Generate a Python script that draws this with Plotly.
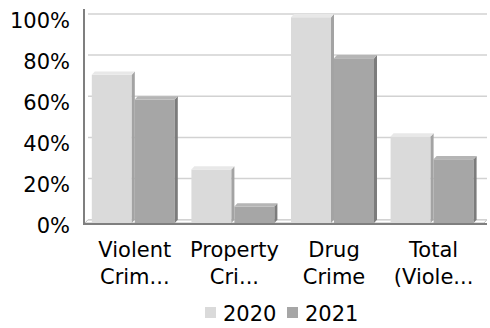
import plotly.graph_objects as go

# Share of cases by crime type, two years
categories = ["Violent<br>Crim...", "Property<br>Cri...", "Drug<br>Crime", "Total<br>(Viole..."]
years = ["2020", "2021"]
values_2020 = [72, 26, 100, 42]
values_2021 = [60, 8, 80, 31]
y_ticks = [0, 20, 40, 60, 80, 100]

# Canvas geometry (pixels)
W, H = 490, 328
M_L, M_R, M_T, M_B = 85, 3, 9, 105
plot_w = W - M_L - M_R
plot_h = H - M_T - M_B
X_MIN = -0.5
PX_PER_CAT = 99.6
X_MAX = X_MIN + plot_w / PX_PER_CAT
PX_PER_PCT = 2.058
Y_MAX = plot_h / PX_PER_PCT

# Oblique depth of the 3D extrusion, converted to data units
DEPTH_X = 3.0 / PX_PER_CAT
DEPTH_Y = 3.3 / PX_PER_PCT

SLOT = 43 / PX_PER_CAT
BAR_W = 40 / PX_PER_CAT

front = {"2020": "#dadada", "2021": "#a6a6a6"}
side = {"2020": "#a3a3a3", "2021": "#7c7c7c"}
top = {"2020": "#e8e8e8", "2021": "#b5b5b5"}
offsets = {"2020": -SLOT, "2021": 0.0}
series = {"2020": values_2020, "2021": values_2021}

FONT = "DejaVu Sans"
FS = 21

fig = go.Figure()
for yr in years:
    fig.add_trace(go.Bar(
        name=yr,
        x=list(range(len(categories))),
        y=series[yr],
        width=BAR_W,
        offset=offsets[yr],
        marker=dict(color=front[yr], line=dict(width=0)),
        hoverinfo="skip",
        showlegend=False,
    ))

shapes = []
annotations = []

# Floor slab under the bars
shapes.append(dict(
    type="path", xref="x", yref="y", layer="below",
    path=f"M{X_MIN},0 L{X_MAX - DEPTH_X},0 L{X_MAX},{DEPTH_Y} L{X_MIN + DEPTH_X},{DEPTH_Y} Z",
    fillcolor="#ffffff", line=dict(color="#bdbdbd", width=1),
))

# Gridlines on the back wall
for v in y_ticks:
    shapes.append(dict(
        type="line", xref="x", yref="y", layer="below",
        x0=X_MIN + DEPTH_X, x1=X_MAX, y0=v + DEPTH_Y, y1=v + DEPTH_Y,
        line=dict(color="#d2d2d2", width=1.5),
    ))

# Side and top faces of each bar
for yr in years:
    for i, v in enumerate(series[yr]):
        x0 = i + offsets[yr]
        x1 = x0 + BAR_W
        shapes.append(dict(
            type="path", xref="x", yref="y", layer="above",
            path=f"M{x1},0 L{x1 + DEPTH_X},{DEPTH_Y} L{x1 + DEPTH_X},{v + DEPTH_Y} L{x1},{v} Z",
            fillcolor=side[yr], line=dict(width=0),
        ))
        shapes.append(dict(
            type="path", xref="x", yref="y", layer="above",
            path=f"M{x0},{v} L{x0 + DEPTH_X},{v + DEPTH_Y} L{x1 + DEPTH_X},{v + DEPTH_Y} L{x1},{v} Z",
            fillcolor=top[yr], line=dict(width=0),
        ))

# Compact legend below the axis: swatch + label per year
def px_x(px):
    return (px - M_L) / plot_w

def px_y(py):
    return (H - M_B - py) / plot_h

legend_left = {"2020": 205, "2021": 287}
LEG_CY = 314
for yr in years:
    lx = legend_left[yr]
    shapes.append(dict(
        type="rect", xref="paper", yref="paper",
        x0=px_x(lx), x1=px_x(lx + 11), y0=px_y(LEG_CY + 4), y1=px_y(LEG_CY - 7),
        fillcolor=front[yr], line=dict(width=0),
    ))
    annotations.append(dict(
        xref="paper", yref="paper", x=px_x(lx + 16), y=px_y(LEG_CY),
        xanchor="left", yanchor="middle", showarrow=False,
        text=yr, font=dict(family=FONT, size=FS, color="#000000"),
    ))

fig.update_layout(
    width=W, height=H,
    margin=dict(l=M_L, r=M_R, t=M_T, b=M_B, pad=0),
    paper_bgcolor="#ffffff", plot_bgcolor="#ffffff",
    font=dict(family=FONT, size=FS, color="#000000"),
    barmode="overlay",
    shapes=shapes,
    annotations=annotations,
    showlegend=False,
    xaxis=dict(
        range=[X_MIN, X_MAX], tickmode="array",
        tickvals=list(range(len(categories))), ticktext=categories,
        showgrid=False, zeroline=False, showline=True,
        linecolor="#7f7f7f", linewidth=1.5, ticks="",
        ticklabelstandoff=7, fixedrange=True,
    ),
    yaxis=dict(
        range=[0, Y_MAX], tickmode="array", tickvals=y_ticks,
        ticktext=[f"{v}%" for v in y_ticks],
        showgrid=False, zeroline=False, showline=True,
        linecolor="#7f7f7f", linewidth=1.5, ticks="",
        ticklabelstandoff=9, ticklabelshift=3, fixedrange=True,
    ),
)

fig.write_html("out.html")
